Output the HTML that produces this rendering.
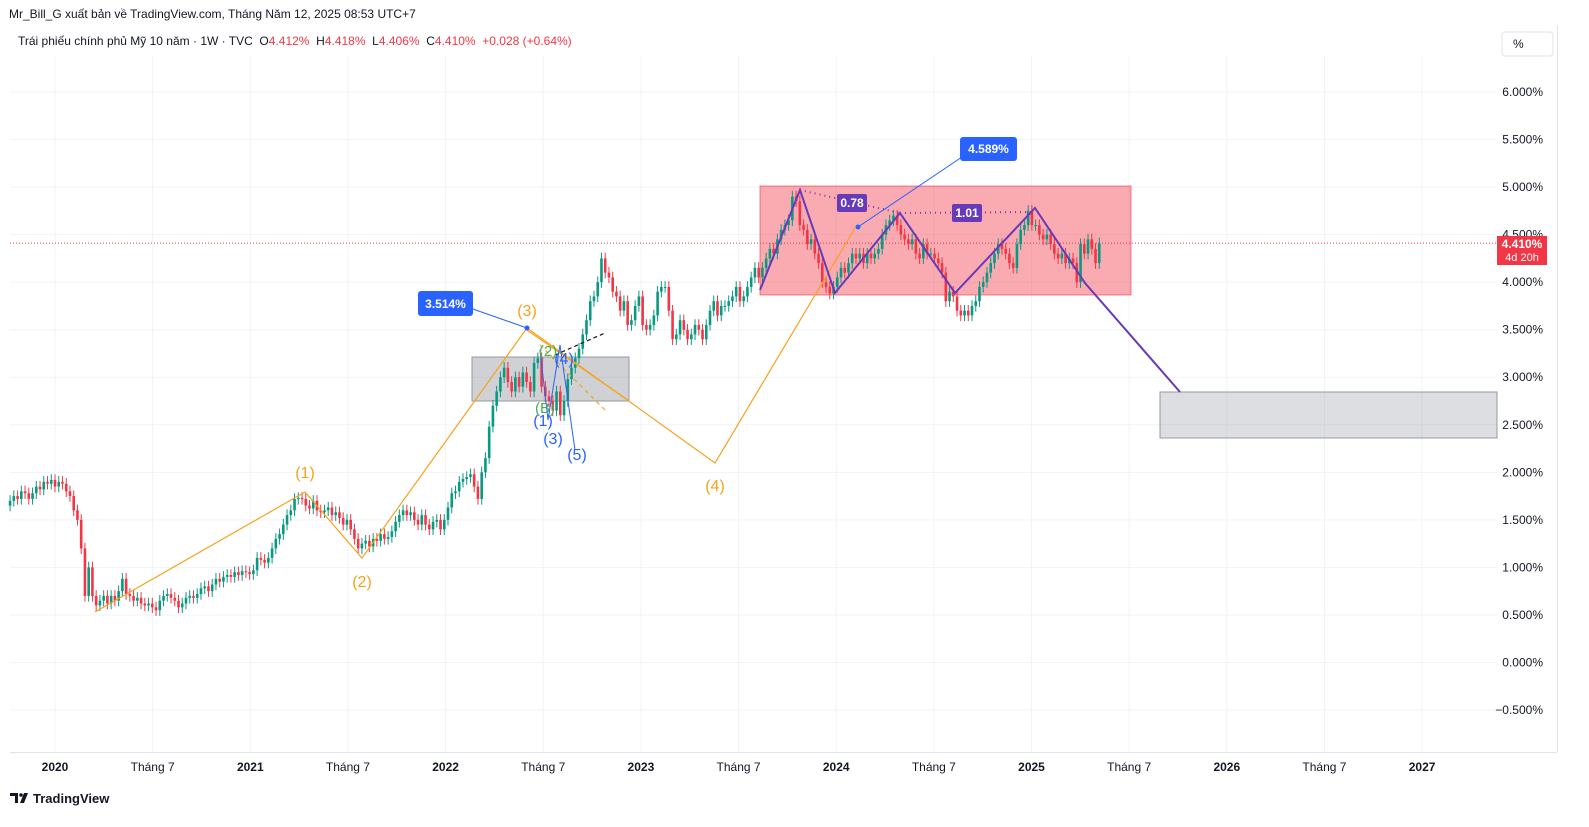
<!DOCTYPE html>
<html><head><meta charset="utf-8"><style>
body{margin:0;background:#fff;font-family:"Liberation Sans","DejaVu Sans",sans-serif;}
#wrap{position:relative;width:1589px;height:827px;overflow:hidden;background:#fff}
svg{position:absolute;left:0;top:0}
</style></head><body>
<div id="wrap">
<svg id="c" width="1589" height="827"></svg>
</div>
<script>
const closes=[1.70,1.75,1.72,1.80,1.78,1.72,1.78,1.85,1.82,1.90,1.88,1.92,1.85,1.90,1.88,1.80,1.75,1.60,
1.50,1.20,0.70,1.00,0.70,0.60,
0.65,0.70,0.62,0.70,0.65,0.75,0.88,0.72,0.70,0.65,0.68,0.62,0.60,0.62,0.58,0.55,0.65,0.70,0.72,0.68,0.65,
0.58,0.62,0.68,0.70,0.68,0.72,0.78,0.80,0.75,0.82,0.88,0.85,0.90,0.92,0.90,0.95,0.92,0.96,0.95,0.93,0.97,
1.10,1.08,1.05,1.10,1.20,1.30,1.35,1.45,1.55,1.60,1.72,
1.73,1.72,1.65,1.62,1.70,1.60,1.58,1.60,1.63,1.55,1.58,1.52,1.45,1.50,1.40,
1.30,1.20,1.25,1.28,1.22,1.30,1.28,1.35,1.30,
1.32,1.38,1.48,1.55,1.60,1.55,1.58,1.50,1.45,1.55,1.45,1.40,1.48,1.50,1.40,1.50,
1.63,1.78,1.80,1.90,1.93,1.95,1.98,1.85,1.72,2.00,
2.15,2.48,2.70,2.85,3.00,3.10,2.95,2.85,3.00,2.90,3.05,2.95,2.85,3.15,3.20,2.90,
2.80,2.75,2.65,2.85,2.60,2.75,2.98,3.10,3.20,3.30,
3.45,3.60,3.80,3.85,4.00,4.25,4.10,4.05,3.90,3.85,3.70,3.80,3.55,3.60,3.75,3.85,
3.55,3.50,3.55,3.65,3.90,3.95,3.95,3.70,3.40,3.45,3.60,3.50,3.40,3.45,3.55,3.50,3.40,3.55,3.70,3.80,3.65,
3.75,3.75,3.80,3.85,3.95,3.80,3.85,3.95,4.05,4.15,
4.05,4.15,4.25,4.35,4.30,4.45,4.55,4.60,4.65,4.90,4.85,
4.60,4.55,4.40,4.45,4.30,4.20,4.00,3.95,3.88,
3.95,4.05,4.15,4.10,4.20,4.30,4.25,4.30,4.20,4.30,4.25,4.30,4.35,4.50,4.60,4.65,4.70,
4.60,4.50,4.45,4.40,4.45,4.30,4.25,4.40,4.30,4.30,4.25,4.20,4.10,
3.80,3.90,3.85,3.70,3.65,3.70,3.65,3.75,3.80,3.95,
4.00,4.10,4.20,4.30,4.40,4.35,4.30,4.20,4.15,4.40,4.55,4.60,
4.75,4.60,4.60,4.50,4.45,4.50,4.40,4.30,4.25,4.30,4.20,4.25,4.20,4.00,4.40,4.30,4.45,4.35,4.20,4.41];
const priceTicks=[6,5.5,5,4.5,4,3.5,3,2.5,2,1.5,1,0.5,0,-0.5];
const timeLabels=["2020","Tháng 7","2021","Tháng 7","2022","Tháng 7","2023","Tháng 7","2024","Tháng 7","2025","Tháng 7","2026","Tháng 7","2027"];
const timeYears=[2020,2020.5,2021,2021.5,2022,2022.5,2023,2023.5,2024,2024.5,2025,2025.5,2026,2026.5,2027];
const lastPrice=4.41;
const firstYear=2019.77;

const NS="http://www.w3.org/2000/svg";
const svg=document.getElementById('c');
function Y(v){return 92+(6-v)*95.08;}
function XT(t){return 55+(t-2020)*195.3;}
function XI(i){return XT(firstYear+i*7/365.25);}
function el(tag,a,parent){const e=document.createElementNS(NS,tag);for(const k in a)e.setAttribute(k,a[k]);(parent||svg).appendChild(e);return e;}
function txt(s,x,y,a,parent){const e=el('text',Object.assign({x:x,y:y},a),parent);e.textContent=s;return e;}

const grid=el('g',{});


priceTicks.forEach(v=>el('line',{x1:10,x2:1497,y1:Y(v),y2:Y(v),stroke:'#f0f3fa','stroke-width':1},grid));
timeYears.forEach(t=>el('line',{x1:XT(t),x2:XT(t),y1:55,y2:752,stroke:'#f0f3fa','stroke-width':1},grid));
el('line',{x1:10,x2:1557,y1:752.5,y2:752.5,stroke:'#e0e3eb'});
el('line',{x1:1557.5,x2:1557.5,y1:25,y2:752,stroke:'#e0e3eb'});

const pink=el('rect',{x:760,y:186,width:371,height:109,fill:'rgba(242,54,69,0.42)',stroke:'rgba(242,54,69,0.6)','stroke-width':1});


const g1=el('rect',{x:472,y:357,width:157,height:44,fill:'rgba(120,123,134,0.35)',stroke:'#9598a1','stroke-width':1});


const g2=el('rect',{x:1160,y:392,width:337,height:46,fill:'rgba(120,123,134,0.25)',stroke:'#9598a1','stroke-width':1});



el('line',{x1:10,x2:1497,y1:Y(lastPrice),y2:Y(lastPrice),stroke:'#f23645','stroke-width':1,'stroke-dasharray':'1,2'});

const cg=el('g',{});


closes.forEach((c,i)=>{
  const o=i>0?closes[i-1]:c-0.05;
  const up=c>=o;const col=up?'#089981':'#f23645';
  const hi=Math.max(o,c)+0.06,lo=Math.min(o,c)-0.06;
  const x=XI(i);
  el('line',{x1:x,x2:x,y1:Y(hi),y2:Y(lo),stroke:col,'stroke-width':1},cg);
  const yt=Y(Math.max(o,c)),h=Math.max(1,Y(Math.min(o,c))-yt);
  const r=el('rect',{x:x-1.3,y:yt,width:2.6,height:h,fill:col},cg);
  
  
});

const orange='#f7a21b';
el('polyline',{points:'95,612 305,492 362,558 527,328 715,463 855,228',fill:'none',stroke:orange,'stroke-width':1.2});
el('line',{x1:527,y1:330,x2:629,y2:401,stroke:orange,'stroke-width':1.2});
el('line',{x1:540,y1:345,x2:605,y2:410,stroke:orange,'stroke-width':1.2,'stroke-dasharray':'4,4'});
[["(1)",305,478],["(2)",362,587],["(3)",527,316],["(4)",715,491]].forEach(a=>{const t=txt(a[0],a[1],a[2],{fill:orange,'font-size':16,'text-anchor':'middle'});});

el('polyline',{points:'760,290 800,190 835,293 900,213 955,293 1035,208 1085,283 1180,392',fill:'none',stroke:'#673ab7','stroke-width':2});
el('polyline',{points:'800,190 900,213',fill:'none',stroke:'#9c27b0','stroke-width':2,'stroke-dasharray':'1,4'});
el('polyline',{points:'900,213 1035,212',fill:'none',stroke:'#9c27b0','stroke-width':2,'stroke-dasharray':'1,4'});
[["0.78",852,203,30],["1.01",967,213,30]].forEach(a=>{
  const r=el('rect',{x:a[1]-a[3]/2,y:a[2]-9,width:a[3],height:18,rx:2,fill:'#673ab7'});
  
  txt(a[0],a[1],a[2]+4,{fill:'#fff','font-size':12,'font-weight':'bold','text-anchor':'middle'});
});

el('line',{x1:555,y1:355,x2:605,y2:333,stroke:'#131722','stroke-width':1.2,'stroke-dasharray':'4,3'});

el('line',{x1:858,y1:227,x2:965,y2:155,stroke:'#2962ff','stroke-width':1});
el('circle',{cx:858,cy:227,r:2.5,fill:'#2962ff'});
const c1=el('rect',{x:960,y:137,width:57,height:24,rx:3,fill:'#2962ff'});

txt('4.589%',988.5,153,{fill:'#fff','font-size':12,'font-weight':'bold','text-anchor':'middle'});
el('line',{x1:527,y1:328,x2:470,y2:308,stroke:'#2962ff','stroke-width':1});
el('circle',{cx:527,cy:328,r:2.5,fill:'#2962ff'});
const c2=el('rect',{x:418,y:291,width:55,height:25,rx:3,fill:'#2962ff'});

txt('3.514%',445.5,308,{fill:'#fff','font-size':12,'font-weight':'bold','text-anchor':'middle'});

el('polyline',{points:'540,350 548,420 560,345 575,450',fill:'none',stroke:'#2962ff','stroke-width':1});
[["(1)",543,426],["(3)",553,444],["(5)",577,460],["(4)",564,364]].forEach(a=>txt(a[0],a[1],a[2],{fill:'#2962ff','font-size':16,'text-anchor':'middle'}));
[["(2)",548,356],["(B)",545,413]].forEach(a=>txt(a[0],a[1],a[2],{fill:'#4caf50','font-size':15,'text-anchor':'middle'}));

const pa=el('g',{});


priceTicks.forEach(v=>{
  const s=(v<0?'\u2212':'')+Math.abs(v).toFixed(3)+'%';
  txt(s,1543,Y(v)+4,{fill:'#131722','font-size':12,'text-anchor':'end'},pa);
});
const pl=el('rect',{x:1497,y:236,width:50,height:29,fill:'#f23645'});

txt(lastPrice.toFixed(3)+'%',1522,248,{fill:'#fff','font-size':12,'font-weight':'bold','text-anchor':'middle'});
txt('4d 20h',1522,261,{fill:'#fff','font-size':11,'text-anchor':'middle'});

const ta=el('g',{});


timeLabels.forEach((s,i)=>txt(s,XT(timeYears[i]),771,{fill:'#131722','font-size':12,'text-anchor':'middle','font-weight':s.length===4?'bold':'normal'},ta));

const h1=txt('Mr_Bill_G xuất bản về TradingView.com, Tháng Năm 12, 2025 08:53 UTC+7',9,18,{fill:'#131722','font-size':12});

const lg=el('text',{x:18,y:45,'font-size':12,fill:'#131722'});

lg.innerHTML='Trái phiếu chính phủ Mỹ 10 năm · 1W · TVC  O<tspan fill="#f23645">4.412%</tspan>  H<tspan fill="#f23645">4.418%</tspan>  L<tspan fill="#f23645">4.406%</tspan>  C<tspan fill="#f23645">4.410%</tspan>  <tspan fill="#f23645">+0.028 (+0.64%)</tspan>';
lg.style.whiteSpace='pre';
const pb=el('rect',{x:1502,y:32,width:51,height:24,rx:3,fill:'#fff',stroke:'#e0e3eb'});

txt('%',1513,48,{fill:'#131722','font-size':12});
const lgo=el('g',{});

el('path',{d:'M10 793h8v10h-3v-7h-5z M20 803l4-10h4l-4 10z',fill:'#131722'},lgo);
el('circle',{cx:21,cy:795,r:1.8,fill:'#131722'},lgo);
txt('TradingView',33,803,{fill:'#131722','font-size':13,'font-weight':'bold'},lgo);
</script>
</body></html>
